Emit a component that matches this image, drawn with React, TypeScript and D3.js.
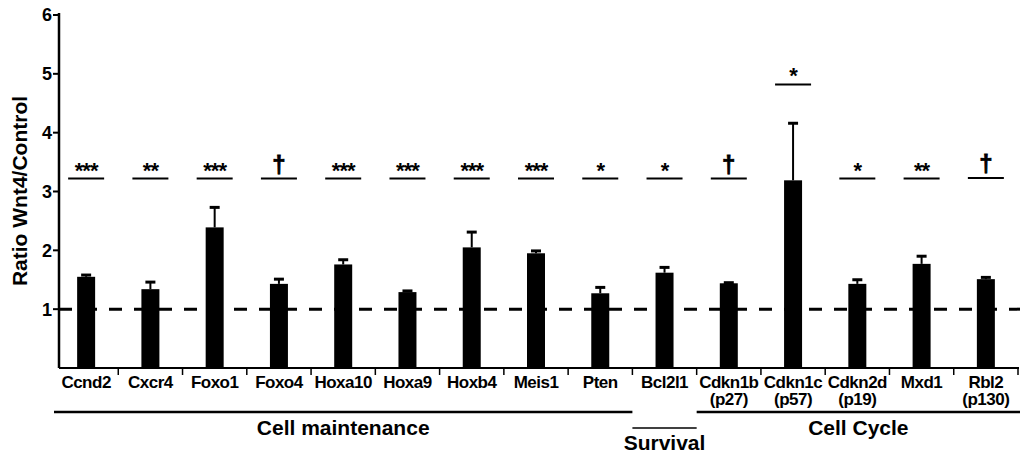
import React from 'react';
import * as d3 from 'd3';

const genes = ['Ccnd2', 'Cxcr4', 'Foxo1', 'Foxo4', 'Hoxa10', 'Hoxa9', 'Hoxb4', 'Meis1', 'Pten', 'Bcl2l1', 'Cdkn1b', 'Cdkn1c', 'Cdkn2d', 'Mxd1', 'Rbl2'];
const subLabels = ['', '', '', '', '', '', '', '', '', '', '(p27)', '(p57)', '(p19)', '', '(p130)'];
const ratios = [1.55, 1.34, 2.39, 1.43, 1.76, 1.29, 2.05, 1.95, 1.27, 1.62, 1.44, 3.19, 1.43, 1.77, 1.51];
const errors = [0.03, 0.12, 0.34, 0.08, 0.08, 0.02, 0.26, 0.04, 0.1, 0.09, 0.01, 0.97, 0.07, 0.13, 0.03];
const marks = ['***', '**', '***', '†', '***', '***', '***', '***', '*', '*', '†', '*', '*', '**', '†'];
const markLevel = [3.22, 3.22, 3.22, 3.22, 3.22, 3.22, 3.22, 3.22, 3.22, 3.22, 3.22, 4.82, 3.22, 3.22, 3.23];
const yTicks = [1, 2, 3, 4, 5, 6];
const groups = [
  { name: 'Cell maintenance', from: 'Ccnd2', to: 'Pten' },
  { name: 'Survival', from: 'Bcl2l1', to: 'Bcl2l1' },
  { name: 'Cell Cycle', from: 'Cdkn1b', to: 'Rbl2' },
];

const font = '"Liberation Sans", Arial, sans-serif';

export default function App() {
  const width = 1028;
  const height = 458;
  const x = d3.scaleBand<string>().domain(genes).range([54, 1018]).paddingInner(0.72).paddingOuter(0.36);
  const y = d3.scaleLinear().domain([0, 6]).range([368, 15]);
  const bw = x.bandwidth();
  const step = x.step();
  const axisX = 59;
  const cx = (g: string) => (x(g) as number) + bw / 2;

  return (
    <svg width={width} height={height} style={{ position: 'absolute', left: 0, top: 0 }} fontFamily={font} fontWeight="bold">
      <rect width={width} height={height} fill="#fff" />
      {/* y axis */}
      <line x1={axisX} x2={axisX} y1={y(6) - 2} y2={y(0)} stroke="#000" strokeWidth={2.5} />
      {yTicks.map(t => (
        <g key={t}>
          <line x1={axisX - 6} x2={axisX} y1={y(t)} y2={y(t)} stroke="#000" strokeWidth={2} />
          <text x={axisX - 7} y={y(t)} dy="0.36em" textAnchor="end" fontSize={18}>{t}</text>
        </g>
      ))}
      <text transform={`translate(27,${191}) rotate(-90)`} textAnchor="middle" fontSize={21}>Ratio Wnt4/Control</text>

      {/* x axis */}
      <line x1={axisX} x2={1019} y1={y(0)} y2={y(0)} stroke="#000" strokeWidth={2} />
      {genes.map(g => (
        <line key={g} x1={cx(g) + step / 2} x2={cx(g) + step / 2} y1={y(0)} y2={y(0) + 7} stroke="#000" strokeWidth={1.5} />
      ))}

      {/* reference line at 1 */}
      <line x1={axisX} x2={1020} y1={y(1)} y2={y(1)} stroke="#000" strokeWidth={3} strokeDasharray="13 12" />

      {/* bars + error bars */}
      {genes.map((g, i) => (
        <g key={g}>
          <rect x={x(g)} y={y(ratios[i])} width={bw} height={y(0) - y(ratios[i])} fill="#000" />
          <line x1={cx(g)} x2={cx(g)} y1={y(ratios[i])} y2={y(ratios[i] + errors[i])} stroke="#000" strokeWidth={2} />
          <line x1={cx(g) - 5} x2={cx(g) + 5} y1={y(ratios[i] + errors[i])} y2={y(ratios[i] + errors[i])} stroke="#000" strokeWidth={3} />
        </g>
      ))}

      {/* significance */}
      {genes.map((g, i) => (
        <g key={g}>
          <line x1={cx(g) - 18} x2={cx(g) + 18} y1={y(markLevel[i])} y2={y(markLevel[i])} stroke="#000" strokeWidth={2} />
          {marks[i] === '†' ? (
            <text x={cx(g)} y={y(markLevel[i]) - 6} textAnchor="middle" fontSize={24} stroke="#000" strokeWidth={0.8}>{marks[i]}</text>
          ) : (
            <text x={cx(g)} y={y(markLevel[i]) - 1} textAnchor="middle" fontSize={22} letterSpacing={-1}>{marks[i]}</text>
          )}
        </g>
      ))}

      {/* category labels */}
      {genes.map((g, i) => (
        <g key={g}>
          <text x={cx(g)} y={388} textAnchor="middle" fontSize={17} letterSpacing={-0.5}>{g}</text>
          {subLabels[i] && <text x={cx(g)} y={405} textAnchor="middle" fontSize={17} letterSpacing={-0.5}>{subLabels[i]}</text>}
        </g>
      ))}

      {/* groups */}
      {groups.map((gr, k) => {
        const x1 = (x(gr.from) as number) - (step - bw) / 2;
        const x2 = (x(gr.to) as number) + bw + (step - bw) / 2;
        const isSurv = gr.name === 'Survival';
        const ly = isSurv ? 428 : 412;
        const lx1 = k === 0 ? 54 : x1;
        const lx2 = k === 2 ? 1020 : x2;
        return (
          <g key={gr.name}>
            <line x1={lx1} x2={lx2} y1={ly} y2={ly} stroke="#000" strokeWidth={isSurv ? 1.5 : 2.5} />
            <text x={(lx1 + lx2) / 2} y={isSurv ? 450 : 435} textAnchor="middle" fontSize={21}>{gr.name}</text>
          </g>
        );
      })}
    </svg>
  );
}
